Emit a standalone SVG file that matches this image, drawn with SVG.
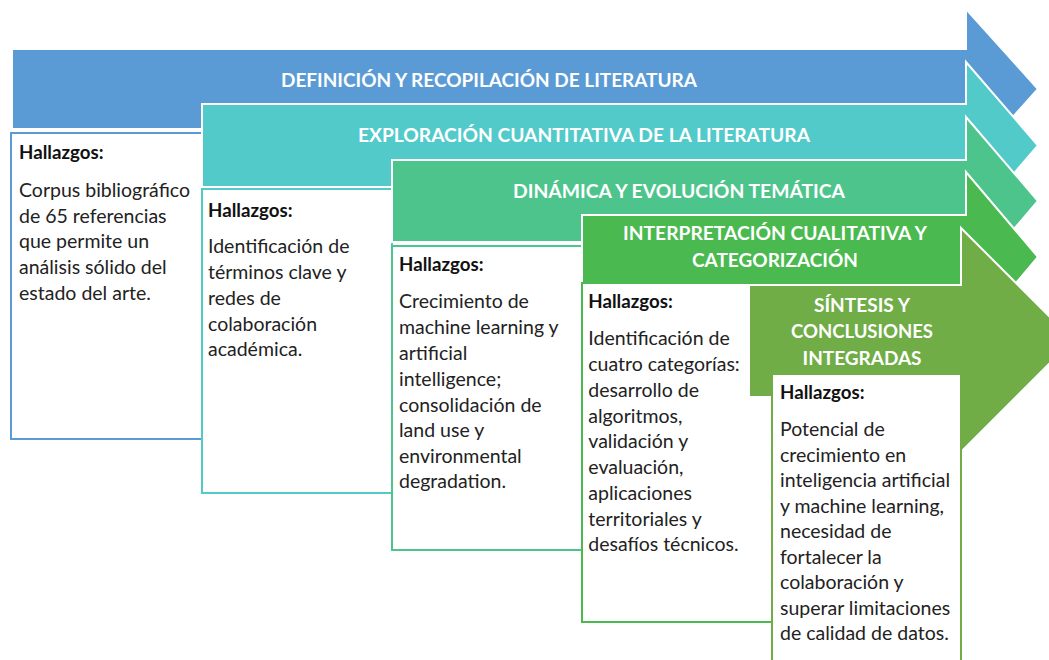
<svg xmlns="http://www.w3.org/2000/svg" width="1049" height="660" viewBox="0 0 1049 660">
<style>
.arrow{stroke:#ffffff;stroke-width:2;stroke-linejoin:miter}
.box{fill:#ffffff;stroke-width:2}
.title{font-family:Lato,"Open Sans","Liberation Sans",sans-serif;font-weight:bold;font-size:19px;fill:#ffffff}
.head{font-family:Lato,"Open Sans","Liberation Sans",sans-serif;font-weight:bold;font-size:18.7px;fill:#111111}
.body{font-family:Lato,"Open Sans","Liberation Sans",sans-serif;font-size:19.5px;fill:#222222}
</style>
<rect width="1049" height="660" fill="#ffffff"/>

<g id="stage1">
<polygon class="arrow" fill="#5B9BD5" points="12,49 966,49 966,9 1038,89 966,169 966,129 12,129"/>
<text class="title" x="489" y="87" text-anchor="middle" textLength="416" lengthAdjust="spacingAndGlyphs">DEFINICIÓN Y RECOPILACIÓN DE LITERATURA</text>
<rect class="box" x="11" y="133" width="191" height="306" stroke="#5B9BD5"/>
<text class="head" x="19" y="159">Hallazgos:</text>
<text class="body" x="19" y="197">Corpus bibliográfico</text>
<text class="body" x="19" y="222.7">de 65 referencias</text>
<text class="body" x="19" y="248.4">que permite un</text>
<text class="body" x="19" y="274">análisis sólido del</text>
<text class="body" x="19" y="299.8">estado del arte.</text>
</g>

<g id="stage2">
<polygon class="arrow" fill="#53CACA" points="202,104 966,104 966,62 1038,145.5 966,229 966,187 202,187"/>
<text class="title" x="584" y="142" text-anchor="middle" textLength="452" lengthAdjust="spacingAndGlyphs">EXPLORACIÓN CUANTITATIVA DE LA LITERATURA</text>
<rect class="box" x="202" y="189" width="190" height="304" stroke="#53CACA"/>
<text class="head" x="208" y="216.7">Hallazgos:</text>
<text class="body" x="208" y="253.3">Identificación de</text>
<text class="body" x="208" y="279">términos clave y</text>
<text class="body" x="208" y="305">redes de</text>
<text class="body" x="208" y="330.7">colaboración</text>
<text class="body" x="208" y="356">académica.</text>
</g>

<g id="stage3">
<polygon class="arrow" fill="#4EC48D" points="392,160 966,160 966,117 1038,201 966,285 966,242 392,242"/>
<text class="title" x="679" y="198" text-anchor="middle" textLength="332" lengthAdjust="spacingAndGlyphs">DINÁMICA Y EVOLUCIÓN TEMÁTICA</text>
<rect class="box" x="392" y="246" width="190" height="304" stroke="#4EC48D"/>
<text class="head" x="399" y="271">Hallazgos:</text>
<text class="body" x="399" y="308.3">Crecimiento de</text>
<text class="body" x="399" y="334">machine learning y</text>
<text class="body" x="399" y="360">artificial</text>
<text class="body" x="399" y="385.7">intelligence;</text>
<text class="body" x="399" y="411.7">consolidación de</text>
<text class="body" x="399" y="437.3">land use y</text>
<text class="body" x="399" y="463">environmental</text>
<text class="body" x="399" y="488.3">degradation.</text>
</g>

<g id="stage4">
<polygon class="arrow" fill="#4AB94F" points="582,215 966,215 966,172 1038,257 966,342 966,299 582,299"/>
<text class="title" x="775" y="240" text-anchor="middle" textLength="304" lengthAdjust="spacingAndGlyphs">INTERPRETACIÓN CUALITATIVA Y</text>
<text class="title" x="775" y="266.7" text-anchor="middle" textLength="166" lengthAdjust="spacingAndGlyphs">CATEGORIZACIÓN</text>
<rect class="box" x="582" y="283" width="190" height="339" stroke="#4AB94F"/>
<text class="head" x="588.3" y="308.3">Hallazgos:</text>
<text class="body" x="588.3" y="345">Identificación de</text>
<text class="body" x="588.3" y="370.7">cuatro categorías:</text>
<text class="body" x="588.3" y="396.7">desarrollo de</text>
<text class="body" x="588.3" y="422.7">algoritmos,</text>
<text class="body" x="588.3" y="448.3">validación y</text>
<text class="body" x="588.3" y="474">evaluación,</text>
<text class="body" x="588.3" y="500">aplicaciones</text>
<text class="body" x="588.3" y="525.7">territoriales y</text>
<text class="body" x="588.3" y="550.7">desafíos técnicos.</text>
</g>

<g id="stage5">
<polygon class="arrow" fill="#70AD47" points="749,285 961,285 961,228 1073,340 961,452 961,397 749,397"/>
<text class="title" x="862" y="311.7" text-anchor="middle" textLength="96" lengthAdjust="spacingAndGlyphs">SÍNTESIS Y</text>
<text class="title" x="862" y="338.3" text-anchor="middle" textLength="142" lengthAdjust="spacingAndGlyphs">CONCLUSIONES</text>
<text class="title" x="862" y="365" text-anchor="middle" textLength="119" lengthAdjust="spacingAndGlyphs">INTEGRADAS</text>
<rect class="box" x="772" y="374" width="189" height="300" stroke="#70AD47"/>
<text class="head" x="780" y="399.3">Hallazgos:</text>
<text class="body" x="780" y="436">Potencial de</text>
<text class="body" x="780" y="461.7">crecimiento en</text>
<text class="body" x="780" y="486.7">inteligencia artificial</text>
<text class="body" x="780" y="512.7">y machine learning,</text>
<text class="body" x="780" y="538.3">necesidad de</text>
<text class="body" x="780" y="564">fortalecer la</text>
<text class="body" x="780" y="589.3">colaboración y</text>
<text class="body" x="780" y="615">superar limitaciones</text>
<text class="body" x="780" y="640">de calidad de datos.</text>
</g>

<g id="connectors"></g>
</svg>
